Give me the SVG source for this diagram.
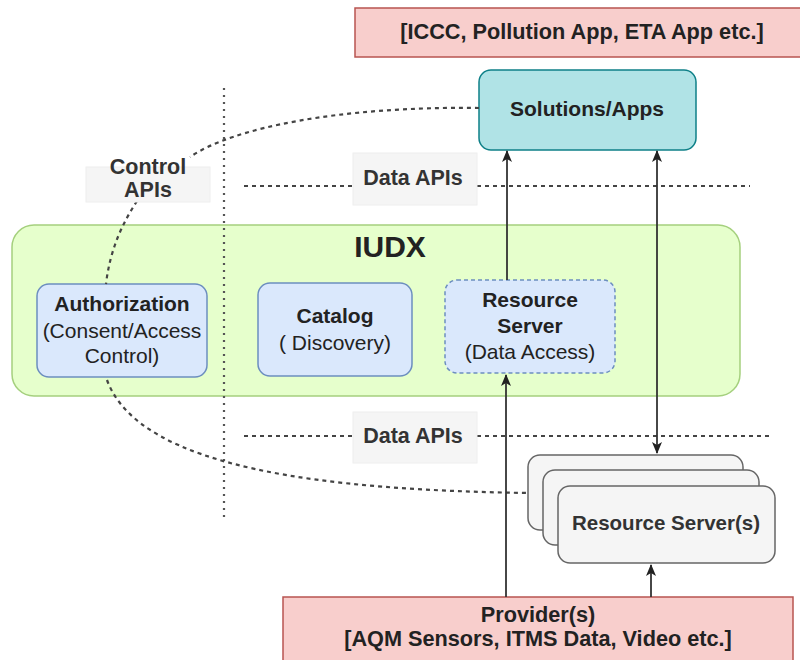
<svg xmlns="http://www.w3.org/2000/svg" width="800" height="660" viewBox="0 0 800 660">
<defs>
<marker id="ah" viewBox="0 0 12 10" refX="11" refY="5" markerWidth="12" markerHeight="10" orient="auto-start-reverse" markerUnits="userSpaceOnUse"><path d="M0,0 L12,5 L0,10 L3,5 Z" fill="#222"/></marker>
<style>
text{font-family:"Liberation Sans",Arial,sans-serif;text-anchor:middle;dominant-baseline:central;fill:#222;font-size:21px}
.b{font-weight:bold}
.big{font-size:21.7px}
.lt{fill:#333;font-weight:bold;font-size:21.5px}
.title{font-size:30px;font-weight:bold}
.dash{fill:none;stroke:#444;stroke-width:2.2;stroke-dasharray:4 4}
.dot{fill:none;stroke:#555;stroke-width:2.2;stroke-dasharray:2 5}
.arr{fill:none;stroke:#333;stroke-width:1.8}
.lbl{fill:#f5f5f5;stroke:#eeeeee}
.rs{fill:#f5f5f5;stroke:#666;stroke-width:1.5}
.blue{fill:#dae8fc;stroke:#6c8ebf;stroke-width:1.5}
.pink{fill:#f8cecc;stroke:#b85450;stroke-width:1.5}
</style>
</defs>
<g id="apps-list"><rect class="pink" x="355" y="8" width="460" height="49"/><text class="b big" x="582" y="31">[ICCC, Pollution App, ETA App etc.]</text></g>
<g id="solutions"><rect x="479" y="70" width="217" height="80" rx="12" fill="#b0e3e6" stroke="#0e8088" stroke-width="1.5"/><text class="b" x="587" y="108">Solutions/Apps</text></g>
<g id="iudx"><rect x="12" y="225" width="728" height="171" rx="22" fill="#e6ffcc" stroke="#a5d07e" stroke-width="1.5"/><text class="title" x="390" y="246">IUDX</text></g>
<g id="authorization"><rect class="blue" x="37" y="284" width="170" height="93" rx="12" stroke="#d6b656"/><text class="b" x="122" y="303">Authorization</text><text x="122" y="330">(Consent/Access</text><text x="122" y="355">Control)</text></g>
<g id="catalog"><rect class="blue" x="258" y="283" width="154" height="93" rx="12"/><text class="b" x="335" y="315">Catalog</text><text x="335" y="342">( Discovery)</text></g>
<g id="resource-server"><rect class="blue" x="445" y="280" width="170" height="93" rx="12" stroke-dasharray="4 3"/><text class="b" x="530" y="299">Resource</text><text class="b" x="530" y="325">Server</text><text x="530" y="351">(Data Access)</text></g>
<g id="resource-servers"><rect class="rs" x="528" y="455" width="215" height="75" rx="12"/><rect class="rs" x="543" y="470" width="216" height="75" rx="12"/><rect class="rs" x="558" y="486" width="217" height="77" rx="12"/><text class="lt" x="666" y="522" style="font-size:20.5px">Resource Server(s)</text></g>
<g id="providers"><rect class="pink" x="283" y="597" width="510" height="70"/><text class="b big" x="538" y="614">Provider(s)</text><text class="b big" x="538" y="638">[AQM Sensors, ITMS Data, Video etc.]</text></g>
<g id="connectors">
<line class="dot" x1="224" y1="88" x2="224" y2="520"/>
<line class="dash" x1="244" y1="186" x2="353" y2="186"/>
<line class="dash" x1="477" y1="186" x2="750" y2="186"/>
<line class="dash" x1="244" y1="436" x2="353" y2="436"/>
<line class="dash" x1="477" y1="436" x2="770" y2="436"/>
<path class="dash" d="M479 108 C340 106 232 128 190 157"/>
<path class="dash" d="M137 201 C122 224 110 250 106 284"/>
<path class="dash" d="M107 380 C140 470 330 490 528 493"/>
<line class="arr" x1="507" y1="280" x2="507" y2="151" marker-end="url(#ah)"/>
<line class="arr" x1="657" y1="151" x2="657" y2="453" marker-start="url(#ah)" marker-end="url(#ah)"/>
<line class="arr" x1="506" y1="597" x2="506" y2="375" marker-end="url(#ah)"/>
<line class="arr" x1="651" y1="597" x2="651" y2="565" marker-end="url(#ah)"/>
</g>
<g id="label-control"><rect class="lbl" x="86" y="167" width="124" height="35"/><text class="lt" x="148" y="167">Control</text><text class="lt" x="148" y="190">APIs</text></g>
<g id="label-data-top"><rect class="lbl" x="353" y="153" width="124" height="52"/><text class="lt" x="413" y="178">Data APIs</text></g>
<g id="label-data-bottom"><rect class="lbl" x="353" y="412" width="124" height="51"/><text class="lt" x="413" y="436">Data APIs</text></g>
</svg>
